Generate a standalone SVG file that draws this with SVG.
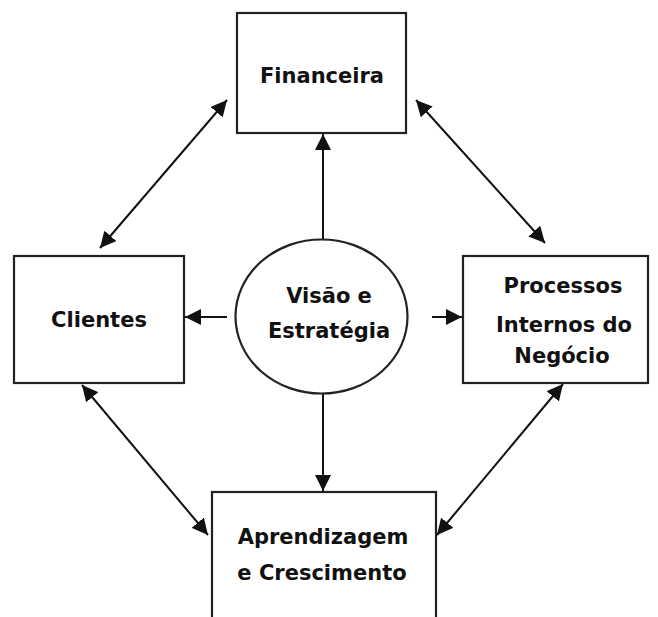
<svg xmlns="http://www.w3.org/2000/svg" width="658" height="617" viewBox="0 0 658 617">
<style>
.box{fill:#fff;stroke:#222;stroke-width:2.2}
.t{font-family:"Comic Sans MS","DejaVu Sans",sans-serif;font-size:21px;font-weight:bold;fill:#111;text-anchor:middle}
.c{stroke:#111;stroke-width:2;fill:none}
</style>
<defs>
<marker id="ah" markerUnits="userSpaceOnUse" markerWidth="18" markerHeight="16" refX="16" refY="8" orient="auto-start-reverse">
<path d="M0,0 L16,8 L0,16 z" fill="#111"/>
</marker>
</defs>
<rect width="658" height="617" fill="#fff"/>
<g id="connectors">
<line class="c" x1="323" y1="240" x2="323" y2="134" marker-end="url(#ah)"/>
<line class="c" x1="323" y1="393" x2="323" y2="491" marker-end="url(#ah)"/>
<line class="c" x1="227" y1="317" x2="185" y2="317" marker-end="url(#ah)"/>
<line class="c" x1="432" y1="317" x2="462" y2="317" marker-end="url(#ah)"/>
<line class="c" x1="100" y1="248" x2="227" y2="100" marker-start="url(#ah)" marker-end="url(#ah)"/>
<line class="c" x1="416" y1="100" x2="545" y2="243" marker-start="url(#ah)" marker-end="url(#ah)"/>
<line class="c" x1="82" y1="385" x2="208" y2="535" marker-start="url(#ah)" marker-end="url(#ah)"/>
<line class="c" x1="563" y1="384" x2="437" y2="535" marker-start="url(#ah)" marker-end="url(#ah)"/>
</g>
<g id="financeira">
<rect class="box" x="237" y="13" width="169" height="120"/>
<text class="t" x="322" y="83">Financeira</text>
</g>
<g id="clientes">
<rect class="box" x="14" y="256" width="170" height="127"/>
<text class="t" x="99" y="327">Clientes</text>
</g>
<g id="processos">
<rect class="box" x="463" y="256" width="185" height="127"/>
<text class="t" x="563" y="293">Processos</text>
<text class="t" x="564" y="332">Internos do</text>
<text class="t" x="562" y="363">Negócio</text>
</g>
<g id="aprendizagem">
<rect class="box" x="212" y="492" width="224" height="140"/>
<text class="t" x="323" y="544">Aprendizagem</text>
<text class="t" x="322" y="580">e Crescimento</text>
</g>
<g id="visao">
<ellipse class="box" cx="321.5" cy="316.5" rx="86" ry="77"/>
<text class="t" x="329" y="303">Visão e</text>
<text class="t" x="329" y="338">Estratégia</text>
</g>
</svg>
